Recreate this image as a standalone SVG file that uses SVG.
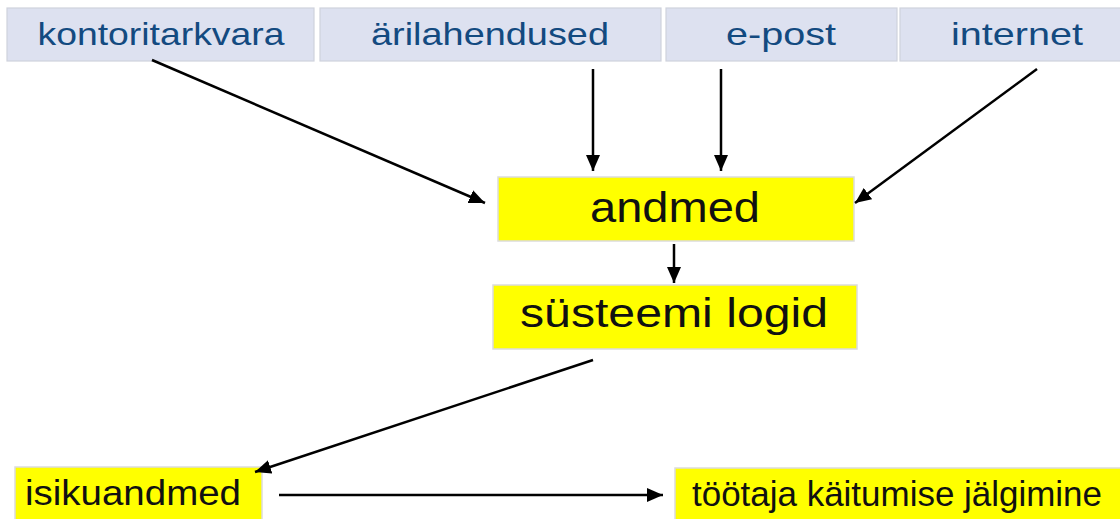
<svg xmlns="http://www.w3.org/2000/svg" width="1120" height="519" viewBox="0 0 1120 519">
<defs>
<style>
.src rect{fill:#dde1f0;stroke:#cfd2dc;stroke-width:1.2}
.src text{font-family:"Liberation Sans",Arial,sans-serif;font-size:32px;fill:#134a80;text-anchor:middle}
.yel rect{fill:#ffff00;stroke:#dcdcdc;stroke-width:1.5}
.yel text{font-family:"Liberation Sans",Arial,sans-serif;fill:#111}
.conn line{stroke:#000;stroke-width:2.5;marker-end:url(#ah)}
</style>
<marker id="ah" markerUnits="userSpaceOnUse" markerWidth="18" markerHeight="16" refX="16" refY="7" orient="auto">
<path d="M0,0 L16,7 L0,14 z" fill="#000"/>
</marker>
</defs>
<rect width="1120" height="519" fill="#fff"/>
<g id="n-kontoritarkvara" class="src"><rect x="7" y="8" width="307" height="53"/><text x="161" y="45" textLength="247" lengthAdjust="spacingAndGlyphs">kontoritarkvara</text></g>
<g id="n-arilahendused" class="src"><rect x="320" y="8" width="341" height="53"/><text x="490" y="45" textLength="238" lengthAdjust="spacingAndGlyphs">ärilahendused</text></g>
<g id="n-epost" class="src"><rect x="666" y="8" width="231" height="53"/><text x="781" y="45" textLength="110" lengthAdjust="spacingAndGlyphs">e-post</text></g>
<g id="n-internet" class="src"><rect x="900" y="8" width="225" height="53"/><text x="1017" y="45" textLength="132" lengthAdjust="spacingAndGlyphs">internet</text></g>
<g id="n-andmed" class="yel"><rect x="498" y="177" width="356" height="64"/><text x="675" y="222" font-size="42" text-anchor="middle" textLength="170" lengthAdjust="spacingAndGlyphs">andmed</text></g>
<g id="n-systeemi" class="yel"><rect x="493" y="285" width="364" height="64"/><text x="674" y="327" font-size="41" text-anchor="middle" textLength="308" lengthAdjust="spacingAndGlyphs">süsteemi logid</text></g>
<g id="n-isikuandmed" class="yel"><rect x="15" y="467" width="247" height="60"/><text x="25" y="505" font-size="35" textLength="216" lengthAdjust="spacingAndGlyphs">isikuandmed</text></g>
<g id="n-tootaja" class="yel"><rect x="675" y="468" width="450" height="60"/><text x="692" y="506" font-size="35" textLength="410" lengthAdjust="spacingAndGlyphs">töötaja käitumise jälgimine</text></g>
<g id="connectors" class="conn">
<line x1="152" y1="60" x2="485" y2="203"/>
<line x1="593" y1="69" x2="593" y2="171"/>
<line x1="721" y1="69" x2="721" y2="171"/>
<line x1="1037" y1="69" x2="855" y2="203"/>
<line x1="674" y1="244" x2="674" y2="283"/>
<line x1="593" y1="360" x2="255" y2="472"/>
<line x1="279" y1="495" x2="663" y2="495"/>
</g>
</svg>
